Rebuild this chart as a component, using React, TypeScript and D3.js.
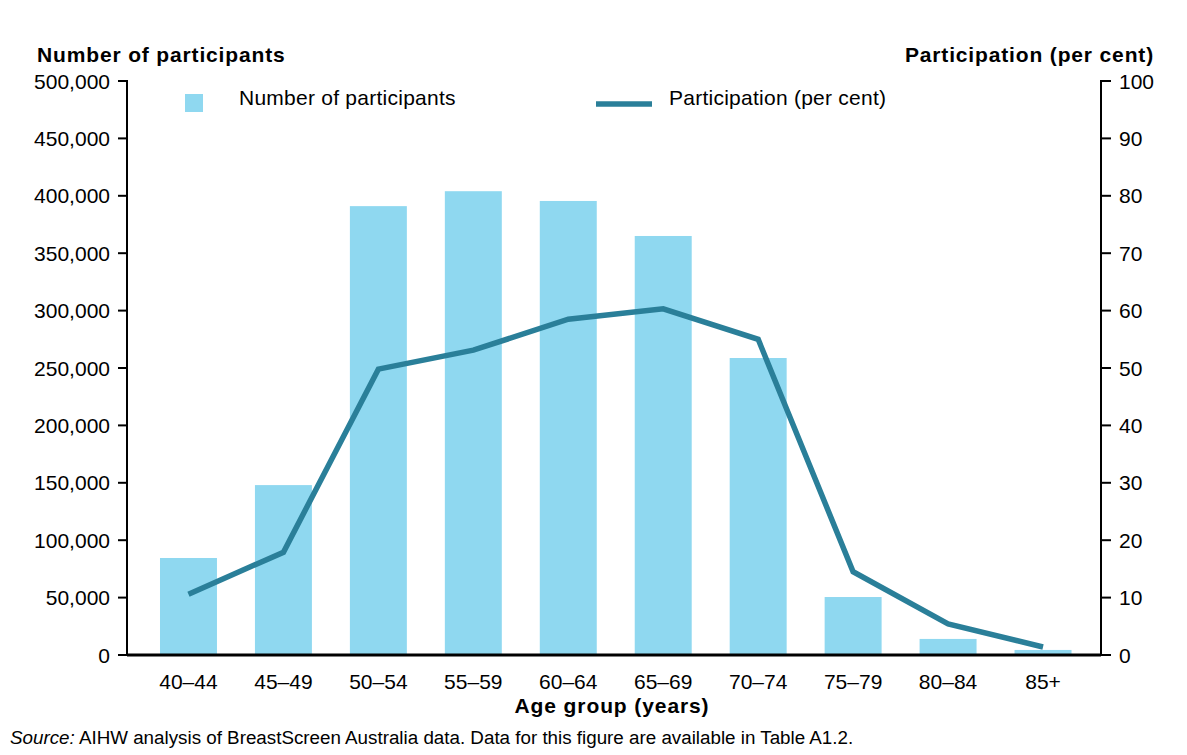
import React from "react";
import * as d3 from "d3";

const categories = ["40–44", "45–49", "50–54", "55–59", "60–64", "65–69", "70–74", "75–79", "80–84", "85+"];
const participants = [84500, 148000, 391000, 404000, 395500, 365000, 258700, 50500, 14000, 4400];
const participation = [10.6, 17.9, 49.8, 53.1, 58.5, 60.3, 55.0, 14.5, 5.4, 1.4];
const leftTicks = [0, 50000, 100000, 150000, 200000, 250000, 300000, 350000, 400000, 450000, 500000];
const rightTicks = [0, 10, 20, 30, 40, 50, 60, 70, 80, 90, 100];

const W = 1187;
const H = 755;
const axL = 127;
const axR = 1101;
const y0 = 655;
const yTop = 81;
const BAR = "#8fd8f0";
const LINE = "#2a7f99";
const FONT = "'Liberation Sans', Arial, sans-serif";

export default function App() {
  const x = d3.scaleBand<string>().domain(categories).range([141, 1090.5]).paddingInner(0.4).paddingOuter(0.2);
  const yL = d3.scaleLinear().domain([0, 500000]).range([y0, yTop]);
  const yR = d3.scaleLinear().domain([0, 100]).range([y0, yTop]);
  const fmt = d3.format(",");
  const cx = (c: string) => (x(c) as number) + x.bandwidth() / 2;
  const line = d3
    .line<number>()
    .x((_, i) => cx(categories[i]))
    .y((d) => yR(d));

  return (
    <svg width={W} height={H} style={{ position: "absolute", left: 0, top: 0, background: "#fff" }} fontFamily={FONT}>
      <rect width={W} height={H} fill="#fff" />
      {/* bars */}
      {categories.map((c, i) => (
        <rect key={c} x={x(c)} y={yL(participants[i])} width={x.bandwidth()} height={y0 - yL(participants[i])} fill={BAR} />
      ))}
      {/* line */}
      <path d={line(participation) || ""} fill="none" stroke={LINE} strokeWidth={5.5} strokeLinejoin="miter" />
      {/* left axis */}
      <line x1={axL} x2={axL} y1={yTop - 1} y2={y0} stroke="#000" strokeWidth={2} />
      {leftTicks.map((t) => (
        <g key={t}>
          <line x1={axL - 9} x2={axL} y1={yL(t)} y2={yL(t)} stroke="#000" strokeWidth={2} />
          <text x={110} y={yL(t) + 7.5} textAnchor="end" fontSize={21} fill="#000">
            {fmt(t)}
          </text>
        </g>
      ))}
      {/* right axis */}
      <line x1={axR} x2={axR} y1={yTop - 1} y2={y0} stroke="#000" strokeWidth={2} />
      {rightTicks.map((t) => (
        <g key={t}>
          <line x1={axR} x2={axR + 10} y1={yR(t)} y2={yR(t)} stroke="#000" strokeWidth={2} />
          <text x={1119} y={yR(t) + 7.5} textAnchor="start" fontSize={21} fill="#000">
            {t}
          </text>
        </g>
      ))}
      {/* x axis */}
      <line x1={axL} x2={axR} y1={y0} y2={y0} stroke="#000" strokeWidth={3} />
      {categories.map((c) => (
        <text key={c} x={cx(c)} y={689} textAnchor="middle" fontSize={21} fill="#000">
          {c}
        </text>
      ))}
      <text x={612} y={713} textAnchor="middle" fontSize={21} fontWeight="bold" letterSpacing={0.9} fill="#000">
        Age group (years)
      </text>
      {/* axis titles */}
      <text x={37} y={62} fontSize={21} fontWeight="bold" letterSpacing={0.85} fill="#000">
        Number of participants
      </text>
      <text x={1154} y={62} textAnchor="end" fontSize={21} fontWeight="bold" letterSpacing={0.85} fill="#000">
        Participation (per cent)
      </text>
      {/* legend */}
      <rect x={185} y={94} width={18} height={18} fill={BAR} />
      <text x={239} y={105} fontSize={21} letterSpacing={0.25} fill="#000">
        Number of participants
      </text>
      <line x1={596} x2={652} y1={104} y2={104} stroke={LINE} strokeWidth={5.5} />
      <text x={669} y={105} fontSize={21} letterSpacing={0.25} fill="#000">
        Participation (per cent)
      </text>
      {/* source */}
      <text x={10} y={744} fontSize={18.8} fill="#000">
        <tspan fontStyle="italic">Source:</tspan> AIHW analysis of BreastScreen Australia data. Data for this figure are available in Table A1.2.
      </text>
    </svg>
  );
}
